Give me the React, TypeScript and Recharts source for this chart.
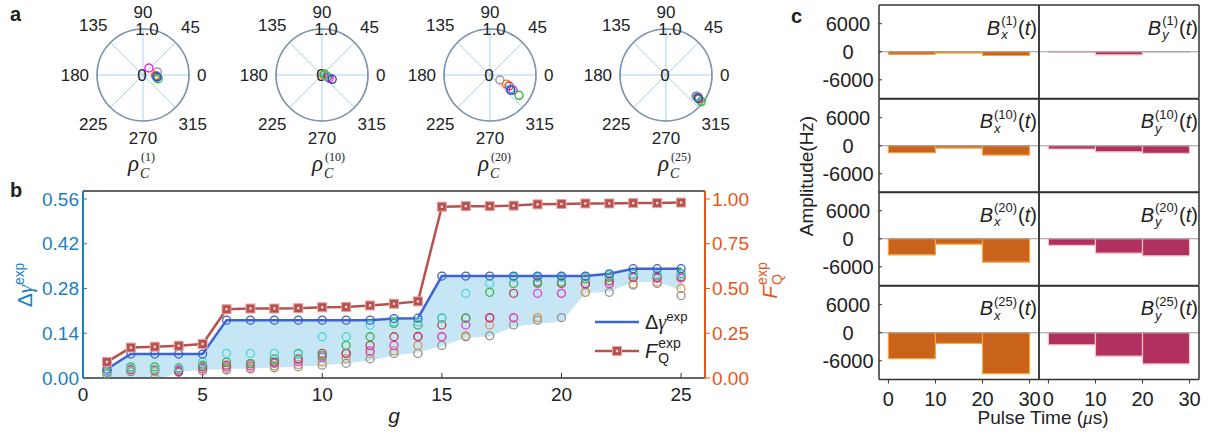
import {
  RadarChart, Radar, PolarGrid, PolarAngleAxis, PolarRadiusAxis,
  ScatterChart, Scatter, ComposedChart, Area, Line, BarChart, Bar,
  XAxis, YAxis, ReferenceLine,
} from "recharts";

const SANS = '"Liberation Sans", Arial, Helvetica, sans-serif';
const SERIF = '"Liberation Serif", "DejaVu Serif", serif';
const INK = "#222";

// ---- panel a: rho_C^(g) on the polar plane (r, angle in degrees)
const ANGLE_TICKS = ["0", "45", "90", "135", "180", "225", "270", "315"];
// order: gray, orange, red, magenta, green, cyan, blue
const TRIAL_COLORS = ["#9a9a9a", "#f07d1e", "#e2382b", "#f01ef0", "#2fbb2f", "#2cc6c6", "#2b48c4"];
const RHO_G = [1, 10, 20, 25];
const RHO1_R = [0.32, 0.27, 0.29, 0.2, 0.34, 0.3, 0.31];
const RHO1_T = [12, -2, -5, 50, -14, -10, -8];
const RHO10_R = [0.05, 0.04, 0.13, 0.17, 0.06, 0.1, 0.24];
const RHO10_T = [10, -5, -20, -24, 20, -15, -23];
const RHO20_R = [0.24, 0.41, 0.48, 0.6, 0.77, 0.53, 0.56];
const RHO20_T = [-27, -29, -30, -33, -35, -34, -36];
const RHO25_R = [0.83, 0.89, 0.85, 0.8, 0.96, 0.81, 0.87];
const RHO25_T = [-34, -36, -35, -35, -37, -35, -36];

// ---- panel b
const G = [1, 2, 3, 4, 5, 6, 7, 8, 9, 10, 11, 12, 13, 14, 15, 16, 17, 18, 19, 20, 21, 22, 23, 24, 25];
const DELTA_GAMMA = [0.028, 0.075, 0.075, 0.075, 0.075, 0.181, 0.181, 0.181, 0.181, 0.181, 0.181, 0.181, 0.186, 0.187, 0.319, 0.319, 0.319, 0.319, 0.319, 0.319, 0.319, 0.326, 0.342, 0.342, 0.342];
const F_Q = [0.09, 0.17, 0.175, 0.18, 0.19, 0.384, 0.388, 0.388, 0.39, 0.395, 0.397, 0.405, 0.415, 0.428, 0.957, 0.96, 0.96, 0.963, 0.97, 0.972, 0.975, 0.975, 0.977, 0.977, 0.98];
const BAND_LOW = [-0.005, -0.012, -0.012, 0.02, 0.025, 0.028, 0.03, 0.032, 0.035, 0.04, 0.045, 0.055, 0.07, 0.08, 0.1, 0.125, 0.13, 0.16, 0.17, 0.176, 0.265, 0.27, 0.3, 0.3, 0.275];
const TRIAL_CYAN = [0.02, 0.03, 0.027, 0.03, 0.05, 0.077, 0.077, 0.077, 0.075, 0.129, 0.129, 0.166, 0.176, 0.176, 0.189, 0.265, 0.296, 0.315, 0.315, 0.315, 0.316, 0.322, 0.325, 0.322, 0.322];
const TRIAL_GREEN = [0.018, 0.035, 0.035, 0.032, 0.04, 0.05, 0.045, 0.06, 0.077, 0.07, 0.102, 0.129, 0.171, 0.166, 0.187, 0.187, 0.268, 0.296, 0.296, 0.3, 0.31, 0.315, 0.325, 0.322, 0.327];
const TRIAL_RED = [0.02, 0.028, 0.025, 0.02, 0.035, 0.04, 0.045, 0.05, 0.06, 0.077, 0.077, 0.102, 0.129, 0.13, 0.166, 0.187, 0.189, 0.265, 0.3, 0.296, 0.294, 0.304, 0.315, 0.315, 0.317];
const TRIAL_MAGENTA = [0.022, 0.027, 0.027, 0.025, 0.03, 0.035, 0.038, 0.046, 0.052, 0.065, 0.077, 0.085, 0.102, 0.129, 0.129, 0.166, 0.187, 0.189, 0.265, 0.265, 0.296, 0.296, 0.315, 0.312, 0.312];
const TRIAL_ORANGE = [0.018, 0.025, 0.02, 0.025, 0.028, 0.03, 0.032, 0.038, 0.042, 0.05, 0.06, 0.077, 0.085, 0.102, 0.129, 0.132, 0.166, 0.187, 0.189, 0.265, 0.268, 0.294, 0.294, 0.301, 0.28];
const TRIAL_GRAY = [0.012, 0.02, 0.0, 0.018, 0.022, 0.025, 0.028, 0.032, 0.035, 0.04, 0.046, 0.06, 0.077, 0.077, 0.102, 0.129, 0.132, 0.166, 0.181, 0.189, 0.268, 0.268, 0.291, 0.296, 0.258];
const G_TICKS = [0, 5, 10, 15, 20, 25];
const DG_TICKS = [0, 0.14, 0.28, 0.42, 0.56];
const FQ_TICKS = [0, 0.25, 0.5, 0.75, 1];

// ---- panel c: pulse amplitudes (Hz) for the three 10 µs segments
const PULSE_START = [0, 10, 20];
const PULSE_LEN = 10;
const PULSE_TICKS = [0, 10, 20, 30];
const AMP_TICKS = [-6000, 0, 6000];
const BX_1 = [-570, -280, -800];
const BY_1 = [-150, -650, -80];
const BX_10 = [-1500, -500, -2000];
const BY_10 = [-720, -1290, -1650];
const BX_20 = [-3440, -1150, -5020];
const BY_20 = [-1430, -3080, -3660];
const BX_25 = [-5520, -2290, -8740];
const BY_25 = [-2580, -5020, -6670];

const BLUE_AXIS = "#1a80c4";
const ORANGE_AXIS = "#e2581c";
const DG_LINE = "#3d63d8";
const FQ_LINE = "#b8504e";

const Sup = ({ children }: any) => (
  <span style={{ fontSize: "0.66em", position: "relative", top: "-0.6em" }}>{children}</span>
);

function Stack({ top, bottom, size = 13, italicBottom = false }: any) {
  return (
    <span style={{ display: "inline-flex", flexDirection: "column", fontSize: size, lineHeight: `${size + 1}px`, verticalAlign: "middle", margin: "0 1px" }}>
      <span>{top}</span>
      <span style={{ fontStyle: italicBottom ? "italic" : "normal" }}>{bottom}</span>
    </span>
  );
}

// ---------------- panel a
const PS = 180, PC = 90, PR = 46;
const ANGLE_DATA = ANGLE_TICKS.map((a) => ({ angle: a, zero: 0 }));

function AngleTick(props: any) {
  const label = String(props.payload?.value ?? "");
  const rad = (Number(label) * Math.PI) / 180;
  const c = Math.cos(rad), s = Math.sin(rad);
  const rl = PR + 8 + label.length * 4.7 * Math.abs(c) + 9 * Math.abs(s);
  return (
    <text x={PC + rl * c} y={PC - rl * s} textAnchor="middle" dominantBaseline="central" fontSize={17} fontFamily={SANS} fill={INK}>
      {label}
    </text>
  );
}

function RadiusTick(props: any) {
  const v = Number(props.payload?.value);
  return (
    <text x={props.x + (v === 0 ? -1 : 4)} y={props.y} textAnchor="middle" dominantBaseline="central" fontSize={17} fontFamily={SANS} fill={INK}>
      {v === 0 ? "0" : v.toFixed(1)}
    </text>
  );
}

function PolarPanel({ cx, r, t, g, labelX }: any) {
  const pts = r.map((rr: number, i: number) => ({
    x: rr * Math.cos((t[i] * Math.PI) / 180),
    y: rr * Math.sin((t[i] * Math.PI) / 180),
  }));
  const pos = { position: "absolute" as const, left: cx - PC, top: 75 - PC };
  return (
    <>
      <div style={pos}>
        <RadarChart width={PS} height={PS} cx={PC} cy={PC} outerRadius={PR} startAngle={0} endAngle={360} data={ANGLE_DATA} margin={{ top: 0, right: 0, bottom: 0, left: 0 }}>
          <PolarGrid gridType="circle" stroke="#a9d1f4" strokeWidth={1} />
          <PolarAngleAxis dataKey="angle" axisLineType="circle" axisLine={{ stroke: "#7d92ad", strokeWidth: 1.6 }} tickLine={false} tick={AngleTick} />
          <PolarRadiusAxis angle={90} domain={[0, 1]} tickCount={3} axisLine={false} tickLine={false} tick={RadiusTick} />
          <Radar dataKey="zero" stroke="none" fill="none" isAnimationActive={false} />
        </RadarChart>
      </div>
      <div style={pos}>
        <ScatterChart width={PS} height={PS} margin={{ top: PC - PR, right: PC - PR, bottom: PC - PR, left: PC - PR }}>
          <XAxis type="number" dataKey="x" domain={[-1, 1]} hide />
          <YAxis type="number" dataKey="y" domain={[-1, 1]} hide />
          {pts.map((p: any, i: number) => (
            <Scatter
              key={i}
              data={[p]}
              isAnimationActive={false}
              shape={(sp: any) => <circle cx={sp.cx} cy={sp.cy} r={4} fill="none" stroke={TRIAL_COLORS[i]} strokeWidth={1.4} />}
            />
          ))}
        </ScatterChart>
      </div>
      <div style={{ position: "absolute", left: labelX, top: 152, fontFamily: SERIF, color: INK }}>
        <span style={{ position: "absolute", left: 0, top: 0, fontStyle: "italic", fontSize: 23, lineHeight: "23px" }}>ρ</span>
        <span style={{ position: "absolute", left: 13, top: -1, fontSize: 12, lineHeight: "12px", whiteSpace: "nowrap" }}>({g})</span>
        <span style={{ position: "absolute", left: 12, top: 15, fontSize: 14, lineHeight: "14px", fontStyle: "italic" }}>C</span>
      </div>
    </>
  );
}

// ---------------- panel b
const bData = G.map((g, i) => ({
  g,
  band: [BAND_LOW[i], DELTA_GAMMA[i]],
  dg: DELTA_GAMMA[i],
  fq: F_Q[i],
  gray: TRIAL_GRAY[i],
  orange: TRIAL_ORANGE[i],
  red: TRIAL_RED[i],
  magenta: TRIAL_MAGENTA[i],
  green: TRIAL_GREEN[i],
  cyan: TRIAL_CYAN[i],
}));

const B_TRIALS: [string, string][] = [
  ["gray", "#8f8f8f"],
  ["orange", "#d9984f"],
  ["magenta", "#e23de2"],
  ["red", "#b8464a"],
  ["green", "#3cb44b"],
  ["cyan", "#4dd6d6"],
];

const squareDot = (p: any) => (
  <g key={`sq-${p.index}`}>
    <rect x={p.cx - 4.5} y={p.cy - 4.5} width={9} height={9} fill={FQ_LINE} stroke="#e3a3a3" strokeWidth={1} />
    <rect x={p.cx - 1.2} y={p.cy - 1.2} width={2.4} height={2.4} fill="#f3d6d6" />
  </g>
);

function PanelB() {
  return (
    <div style={{ position: "absolute", left: 0, top: 185 }}>
      <ComposedChart width={790} height={251} data={bData} margin={{ top: 5, right: 20, bottom: 28, left: 20 }}>
        <XAxis xAxisId="b" dataKey="g" type="number" domain={[0, 26]} ticks={G_TICKS} height={30}
          tickSize={-5} tickMargin={15} axisLine={{ stroke: "#333", strokeWidth: 1.5 }} tickLine={{ stroke: "#333" }}
          tick={{ fill: INK, fontSize: 19, fontFamily: SANS }}
          label={{ value: "g", position: "bottom", offset: 0, fontSize: 21, fontStyle: "italic", fill: INK, fontFamily: SANS }} />
        <XAxis xAxisId="top" orientation="top" dataKey="g" type="number" domain={[0, 26]} ticks={G_TICKS} height={1}
          tick={false} tickSize={-5} axisLine={{ stroke: "#333", strokeWidth: 1.5 }} tickLine={{ stroke: "#333" }} />
        <YAxis yAxisId="l" type="number" domain={[0, 0.585]} ticks={DG_TICKS} allowDataOverflow width={63}
          tickSize={-4} tickMargin={8} tickFormatter={(v: number) => v.toFixed(2)}
          axisLine={{ stroke: BLUE_AXIS, strokeWidth: 2 }} tickLine={{ stroke: BLUE_AXIS }}
          tick={{ fill: BLUE_AXIS, fontSize: 19, fontFamily: SANS }} />
        <YAxis yAxisId="r" orientation="right" type="number" domain={[0, 1.0446]} ticks={FQ_TICKS} allowDataOverflow width={65}
          tickSize={5} tickMargin={2} tickFormatter={(v: number) => v.toFixed(2)}
          axisLine={{ stroke: ORANGE_AXIS, strokeWidth: 2 }} tickLine={{ stroke: ORANGE_AXIS }}
          tick={{ fill: ORANGE_AXIS, fontSize: 19, fontFamily: SANS }} />
        <Area xAxisId="b" yAxisId="l" dataKey="band" type="linear" stroke="none" fill="#c6e6f5" fillOpacity={1} isAnimationActive={false} />
        {B_TRIALS.map(([k, c]) => (
          <Line key={k} xAxisId="b" yAxisId="l" dataKey={k} stroke="none" legendType="none" activeDot={false}
            dot={{ r: 4, stroke: c, strokeWidth: 1.3, fill: "none" }} isAnimationActive={false} />
        ))}
        <Line xAxisId="b" yAxisId="l" dataKey="dg" type="linear" stroke={DG_LINE} strokeWidth={2.5} activeDot={false}
          dot={{ r: 4, stroke: "#3b5dc9", strokeWidth: 1.3, fill: "none" }} isAnimationActive={false} />
        <Line xAxisId="b" yAxisId="r" dataKey="fq" type="linear" stroke={FQ_LINE} strokeWidth={2.5} activeDot={false}
          dot={squareDot} isAnimationActive={false} />
      </ComposedChart>
    </div>
  );
}

// ---------------- panel c
const C_ROW_TOPS = [5, 98.5, 192, 285.5];
const C_ROW_H = 93.5;
const C_COL_LEFT = [879, 1039];
const C_PLOT_W = 160;
const C_FILL = ["#c9621a", "#b0305f"];
const C_STROKE = ["#f7a540", "#f0c4c4"];

function PulseChart({ values, row, col }: any) {
  const last = row === 3;
  const yw = col === 0 ? 62 : 1;
  const m = 4;
  const xh = last ? 34 : 1;
  const data = PULSE_START.map((s, i) => ({ t: s + PULSE_LEN / 2, v: values[i] }));
  const frame = { stroke: "#333", strokeWidth: 1.5 };
  const ml = col === 0 ? m : m - 1;
  const mb = last ? m : m - 1;
  return (
    <div style={{ position: "absolute", left: C_COL_LEFT[col] - yw - ml, top: C_ROW_TOPS[row] - m }}>
      <BarChart width={ml + yw + C_PLOT_W + m} height={m + C_ROW_H + xh + mb} data={data} margin={{ top: m - 1, right: m - 1, bottom: mb, left: ml }}>
        <XAxis dataKey="t" type="number" domain={[-2, 32]} ticks={PULSE_TICKS} height={xh}
          tickSize={last ? 4 : -3} tickMargin={8} axisLine={frame} tickLine={{ stroke: "#333" }}
          tick={last ? { fill: INK, fontSize: 20, fontFamily: SANS } : false} />
        <XAxis xAxisId="top" orientation="top" dataKey="t" type="number" domain={[-2, 32]} ticks={PULSE_TICKS} height={1}
          tickSize={-3} axisLine={frame} tickLine={{ stroke: "#333" }} tick={false} />
        <YAxis type="number" domain={[-10000, 10000]} ticks={AMP_TICKS} width={yw}
          tickSize={-3} tickMargin={34} axisLine={frame} tickLine={{ stroke: "#333" }}
          tick={col === 0 ? { fill: INK, fontSize: 20, fontFamily: SANS, textAnchor: "middle" } : false} />
        <YAxis yAxisId="right" orientation="right" type="number" domain={[-10000, 10000]} ticks={AMP_TICKS} width={1}
          tickSize={-3} axisLine={frame} tickLine={{ stroke: "#333" }} tick={false} />
        <ReferenceLine y={0} stroke="#9a9a9a" strokeWidth={1.2} />
        <Bar dataKey="v" fill={C_FILL[col]} stroke={C_STROKE[col]} strokeWidth={1.2} barSize={47} isAnimationActive={false} />
      </BarChart>
    </div>
  );
}

function FieldLabel({ axis, g, right, top }: any) {
  return (
    <div style={{ position: "absolute", right, top, display: "flex", alignItems: "center", fontFamily: SANS, color: INK, fontSize: 20 }}>
      <span style={{ fontStyle: "italic" }}>B</span>
      <Stack top={`(${g})`} bottom={axis} size={13} italicBottom />
      <span>
        (<i>t</i>)
      </span>
    </div>
  );
}

const C_ROWS = [
  [BX_1, BY_1],
  [BX_10, BY_10],
  [BX_20, BY_20],
  [BX_25, BY_25],
];

export default function App() {
  const rhoSets = [
    [RHO1_R, RHO1_T],
    [RHO10_R, RHO10_T],
    [RHO20_R, RHO20_T],
    [RHO25_R, RHO25_T],
  ];
  const polarCx = [143, 322, 490, 666];
  const rhoLabelX = [128, 312, 478, 658];
  return (
    <div style={{ position: "absolute", left: 0, top: 0, width: 1208, height: 436, background: "#fff", overflow: "hidden", fontFamily: SANS, color: INK }}>
      {/* panel letters */}
      <div style={{ position: "absolute", left: 10, top: 3, fontWeight: "bold", fontSize: 20 }}>a</div>
      <div style={{ position: "absolute", left: 10, top: 179, fontWeight: "bold", fontSize: 20 }}>b</div>
      <div style={{ position: "absolute", left: 791, top: 5, fontWeight: "bold", fontSize: 20 }}>c</div>

      {rhoSets.map(([r, t], i) => (
        <PolarPanel key={i} cx={polarCx[i]} r={r} t={t} g={RHO_G[i]} labelX={rhoLabelX[i]} />
      ))}

      <PanelB />
      <div style={{ position: "absolute", left: 25 - 60, top: 285 - 13, width: 120, height: 26, lineHeight: "26px", textAlign: "center", transform: "rotate(-90deg)", color: BLUE_AXIS, fontSize: 21 }}>
        Δ<i style={{ fontFamily: SERIF }}>γ</i>
        <Sup>exp</Sup>
      </div>
      <div style={{ position: "absolute", left: 770 - 60, top: 280 - 15, width: 120, height: 30, display: "flex", alignItems: "center", justifyContent: "center", transform: "rotate(-90deg)", color: ORANGE_AXIS, fontSize: 21 }}>
        <i>F</i>
        <Stack top="exp" bottom="Q" size={14} />
      </div>

      {/* legend */}
      <div style={{ position: "absolute", left: 594, top: 308, color: INK, fontSize: 20 }}>
        <div style={{ display: "flex", alignItems: "center", height: 28 }}>
          <svg width={46} height={14}>
            <line x1={1} y1={7} x2={45} y2={7} stroke={DG_LINE} strokeWidth={2.5} />
          </svg>
          <span style={{ marginLeft: 5 }}>
            Δ<i style={{ fontFamily: SERIF }}>γ</i>
            <Sup>exp</Sup>
          </span>
        </div>
        <div style={{ display: "flex", alignItems: "center", height: 30 }}>
          <svg width={46} height={14}>
            <line x1={1} y1={7} x2={45} y2={7} stroke={FQ_LINE} strokeWidth={2.5} />
            <rect x={18.5} y={2.5} width={9} height={9} fill={FQ_LINE} stroke="#e3a3a3" strokeWidth={1} />
            <rect x={21.8} y={5.8} width={2.4} height={2.4} fill="#f3d6d6" />
          </svg>
          <span style={{ marginLeft: 5, display: "flex", alignItems: "center" }}>
            <i>F</i>
            <Stack top="exp" bottom="Q" size={14} />
          </span>
        </div>
      </div>

      {/* panel c */}
      {C_ROWS.map((pair, row) =>
        pair.map((vals, col) => <PulseChart key={`${row}-${col}`} values={vals} row={row} col={col} />)
      )}
      {RHO_G.map((g, row) => (
        <FieldLabel key={`bx${g}`} axis="x" g={g} right={1208 - 1037} top={C_ROW_TOPS[row] + 9} />
      ))}
      {RHO_G.map((g, row) => (
        <FieldLabel key={`by${g}`} axis="y" g={g} right={1208 - 1198} top={C_ROW_TOPS[row] + 9} />
      ))}
      <div style={{ position: "absolute", left: 807 - 100, top: 176 - 12, width: 200, height: 24, lineHeight: "24px", textAlign: "center", transform: "rotate(-90deg)", fontSize: 19 }}>
        Amplitude(Hz)
      </div>
      <div style={{ position: "absolute", left: 1043 - 100, top: 407, width: 200, textAlign: "center", fontSize: 19 }}>
        Pulse Time (<i style={{ fontFamily: SERIF }}>μ</i>s)
      </div>
    </div>
  );
}
